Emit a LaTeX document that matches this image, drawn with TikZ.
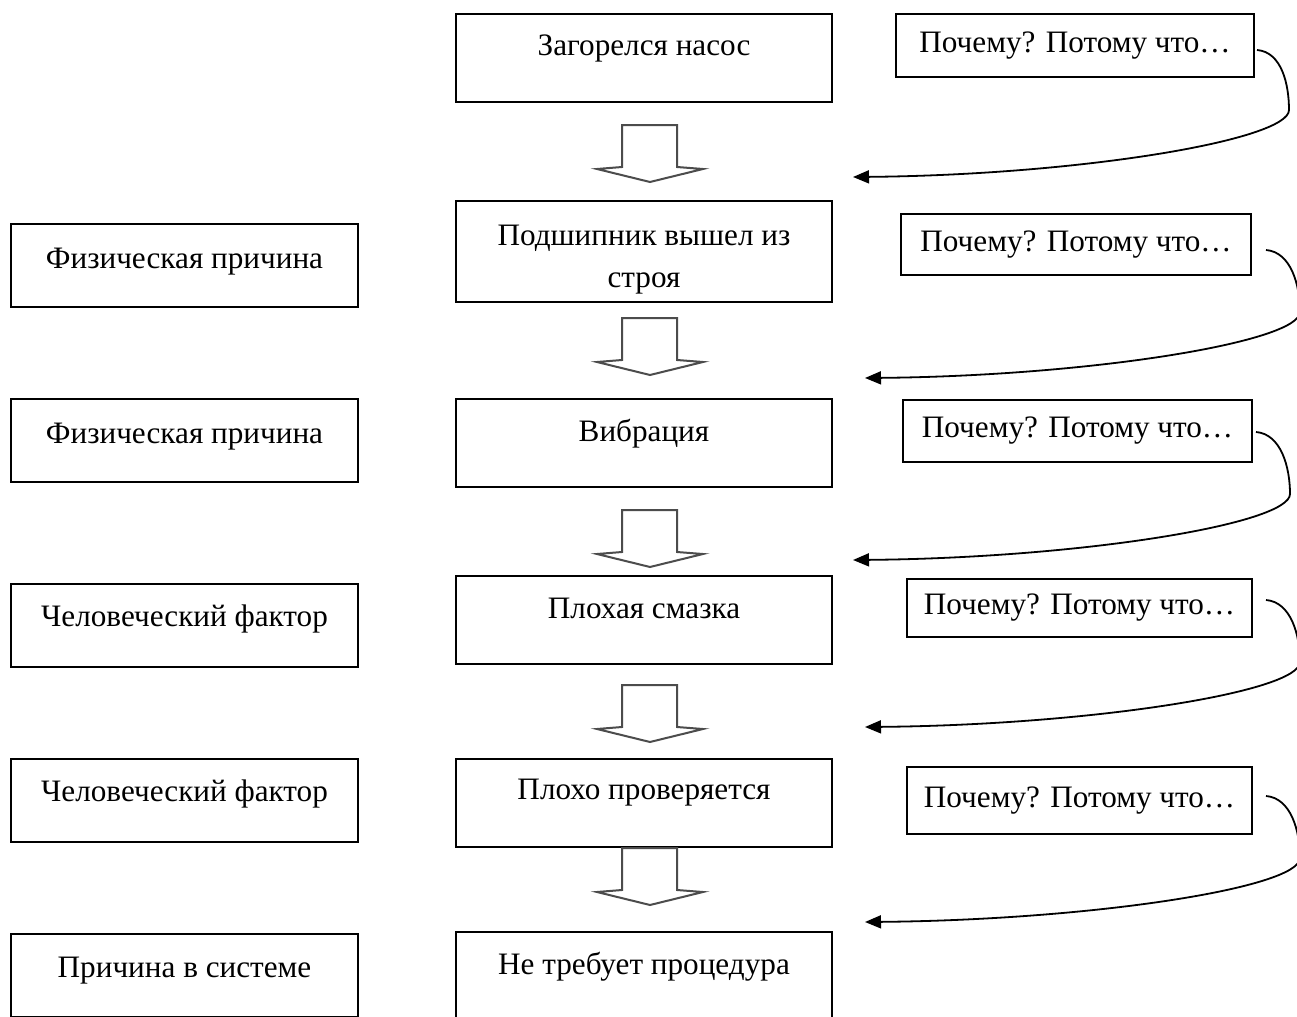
\documentclass[tikz,border=0pt]{standalone}
\usepackage{fontspec}
\setmainfont{Liberation Serif}
\usetikzlibrary{arrows.meta}
\begin{document}
\begin{tikzpicture}[x=0.5pt,y=-0.5pt,
  box/.style={draw, line width=1pt, inner sep=0pt, outer sep=0pt},
  cbox/.style={box, minimum width=188pt, minimum height=44pt},
  lbox/.style={box, minimum width=173.5pt, minimum height=41.5pt},
  txt/.style={font=\fontsize{15.6pt}{21pt}\selectfont, inner sep=0pt, anchor=base, align=center},
  rtxt/.style={box, font=\fontsize{15.6pt}{21pt}\selectfont},
  hollow/.style={draw=black!70, line width=1pt, fill=white, line join=miter},
  curvy/.style={draw, line width=0.9pt, -{Triangle[length=8pt,width=6.5pt]}}]
\useasboundingbox (0,0) rectangle (1297,1017);
\fill[white] (0,0) rectangle (1297,1017);

% centre column
\node[cbox] (c1) at (644,58) {};
\node[cbox, minimum height=50.5pt] (c2) at (644,251.5) {};
\node[cbox] (c3) at (644,443) {};
\node[cbox] (c4) at (644,620) {};
\node[cbox] (c5) at (644,803) {};
\node[cbox] (c6) at (644,976) {};
\node[txt] (tc1) at ([yshift=-20.5pt]c1.north) {Загорелся насос};
\node[txt] (tc2) at ([yshift=-43pt]c2.north) {Подшипник вышел из\\строя};
\node[txt] (tc3) at ([yshift=-21pt]c3.north) {Вибрация};
\node[txt] (tc4) at ([yshift=-21pt]c4.north) {Плохая смазка};
\node[txt] (tc5) at ([yshift=-20pt]c5.north) {Плохо проверяется};
\node[txt] (tc6) at ([yshift=-21pt]c6.north) {Не требует процедура};

% left column
\node[lbox] (l1) at (184.5,265.5) {};
\node[lbox] (l2) at (184.5,440.5) {};
\node[lbox] (l3) at (184.5,625.5) {};
\node[lbox] (l4) at (184.5,800.5) {};
\node[lbox] (l5) at (184.5,975.5) {};
\node[txt] (tl1) at ([yshift=-22pt]l1.north) {Физическая причина};
\node[txt] (tl2) at ([yshift=-22pt]l2.north) {Физическая причина};
\node[txt] (tl3) at ([yshift=-21pt]l3.north) {Человеческий фактор};
\node[txt] (tl4) at ([yshift=-21pt]l4.north) {Человеческий фактор};
\node[txt] (tl5) at ([yshift=-21.5pt]l5.north) {Причина в системе};

% right column
\node[rtxt, minimum width=179pt, minimum height=31.5pt] (r1) at (1075,45.5) {Почему? Потому что…};
\node[rtxt, minimum width=175pt, minimum height=30.5pt] (r2) at (1076,244.5) {Почему? Потому что…};
\node[rtxt, minimum width=174.5pt, minimum height=31pt] (r3) at (1077.5,431) {Почему? Потому что…};
\node[rtxt, minimum width=172.5pt, minimum height=29pt] (r4) at (1079.5,608) {Почему? Потому что…};
\node[rtxt, minimum width=172.5pt, minimum height=33.5pt] (r5) at (1079.5,800.5) {Почему? Потому что…};

% hollow block arrows
\foreach \t in {125,318,510,685,848}{
  \draw[hollow] (622,\t) -- (677,\t) -- (677,{\t+42}) -- (703,{\t+44}) -- (650,{\t+57})
     -- (597,{\t+44}) -- (622,{\t+42}) -- cycle;
}

% curved arrows
\coordinate (s1) at (1257,50);  \coordinate (e1) at (853,177);
\coordinate (s2) at (1266,250); \coordinate (e2) at (865,378);
\coordinate (s3) at (1256,432); \coordinate (e3) at (853,560);
\coordinate (s4) at (1266,600); \coordinate (e4) at (865,727);
\coordinate (s5) at (1266,796); \coordinate (e5) at (865,922);
\draw[curvy] (s1) .. controls (1282,52) and (1289,85) .. (1289,110)
  .. controls (1289,140) and (1080,175) .. (e1);
\draw[curvy] (s2) .. controls (1291,252) and (1300,285) .. (1300,312)
  .. controls (1300,342) and (1090,376) .. (e2);
\draw[curvy] (s3) .. controls (1281,434) and (1290,467) .. (1290,494)
  .. controls (1290,524) and (1080,558) .. (e3);
\draw[curvy] (s4) .. controls (1291,602) and (1300,635) .. (1300,662)
  .. controls (1300,692) and (1090,725) .. (e4);
\draw[curvy] (s5) .. controls (1291,798) and (1300,831) .. (1300,858)
  .. controls (1300,888) and (1090,920) .. (e5);
\end{tikzpicture}
\end{document}
